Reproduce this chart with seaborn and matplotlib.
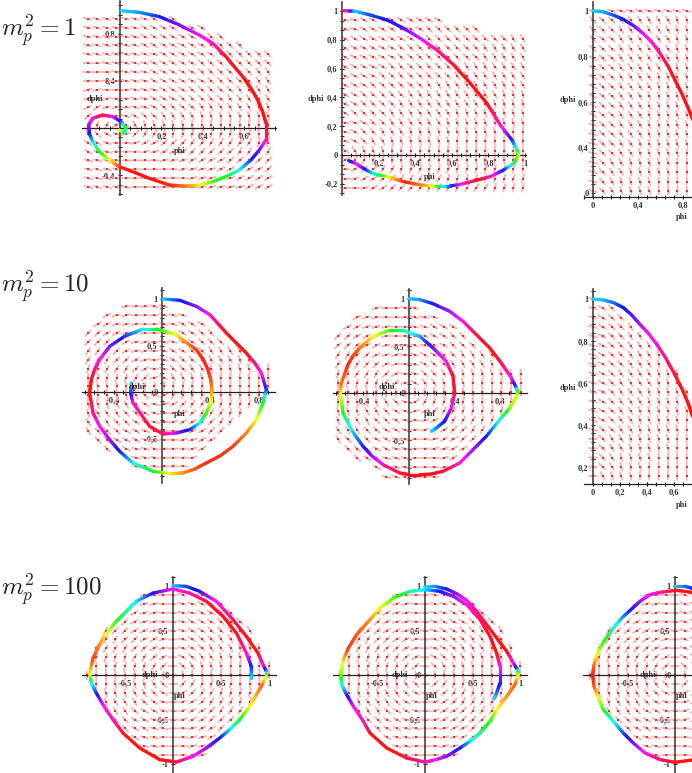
import numpy as np
import pandas as pd
import seaborn as sns
import matplotlib
matplotlib.use("Agg")
import matplotlib.pyplot as plt
from matplotlib.colors import hsv_to_rgb
from matplotlib.ticker import MultipleLocator

W, H = 692, 773
CODES = "abcdefghijklmnopqrstuvwx"  # 15 degree steps, clockwise from "right"

P1_PHI = [.005, .093, .190, .287, .383, .448, .512, .552, .593, .633, .665, .689, .705, .705, .673, .633, .576, .512, .448, .383, .319, .238, .142, .061, -.003, -.052, -.100, -.132, -.148, -.151, -.132, -.084, -.035, .005, .029, .021, -.003]
P1_DPHI = [.994, .980, .944, .873, .788, .718, .605, .520, .435, .336, .237, .138, .040, -.102, -.186, -.271, -.356, -.412, -.455, -.483, -.492, -.483, -.427, -.370, -.328, -.271, -.201, -.116, -.045, .025, .082, .110, .096, .054, -.003, -.045, -.017]
P1_HUE = [190, 205, 235, 265, 295, 310, 355, 358, 360, 360, 360, 360, 360, 330, 270, 235, 185, 130, 110, 60, 30, 5, 0, 0, 5, 55, 120, 180, 235, 270, 305, 355, 300, 240, 120, 180, 60]

P2_PHI = [.009, .073, .155, .246, .337, .428, .519, .610, .701, .792, .865, .929, .956, .965, .938, .883, .811, .738, .647, .592, .537, .483, .428, .337, .246, .200, .164, .118, .073, .036]
P2_DPHI = [1.002, .998, .972, .938, .880, .810, .729, .625, .498, .359, .208, .104, .035, 0, -.058, -.104, -.150, -.174, -.204, -.215, -.215, -.215, -.208, -.185, -.150, -.139, -.127, -.093, -.058, -.039]
P2_HUE = [360, 190, 225, 240, 255, 290, 325, 350, 360, 360, 320, 240, 170, 70, 130, 230, 310, 360, 310, 240, 170, 60, 30, 0, 60, 130, 180, 240, 310, 230]

P3_PHI = [.003, .092, .181, .270, .359, .444, .521, .596, .670, .729, .788, .847, .883, .95]
P3_DPHI = [1.001, .996, .982, .963, .936, .902, .865, .814, .756, .697, .639, .573, .529, .44]
P3_HUE = [190, 200, 220, 240, 260, 290, 310, 330, 350, 360, 360, 360, 360, 360]

P4_PHI = [.008, .146, .284, .394, .463, .532, .614, .697, .766, .821, .862, .835, .780, .697, .587, .482, .366, .270, .174, .063, -.074, -.240, -.350, -.433, -.515, -.570, -.598, -.584, -.556, -.515, -.433, -.309, -.157, -.047, .118, .187, .284, .339, .380, .402, .413, .408, .366, .311, .229, .118, .008, -.102, -.240, -.259, -.253]
P4_DPHI = [1, .986, .921, .832, .735, .634, .527, .419, .312, .204, .025, -.118, -.297, -.441, -.584, -.685, -.763, -.828, -.871, -.878, -.853, -.763, -.638, -.513, -.369, -.226, -.011, .133, .247, .348, .491, .599, .677, .677, .616, .545, .455, .355, .240, .133, .025, -.100, -.226, -.333, -.405, -.441, -.452, -.369, -.118, -.011, .097]
P4_HUE = [190, 235, 270, 300, 335, 360, 360, 360, 340, 310, 240, 130, 60, 30, 10, 8, 5, 15, 30, 50, 120, 180, 235, 270, 300, 330, 360, 360, 335, 310, 270, 235, 185, 130, 60, 35, 10, 5, 5, 15, 30, 55, 110, 170, 230, 270, 340, 355, 310, 240, 190]

P5_PHI = [0, .094, .211, .357, .474, .591, .708, .810, .898, .942, .956, .942, .883, .795, .678, .561, .444, .298, .196, .094, .006, -.082, -.228, -.322, -.404, -.506, -.579, -.602, -.594, -.535, -.491, -.433, -.316, -.170, -.053, .094, .211, .327, .386, .401, .371, .313, .240, .196]
P5_DPHI = [1.004, .993, .950, .869, .762, .621, .479, .319, .160, .053, .007, -.035, -.160, -.284, -.461, -.603, -.745, -.833, -.862, -.869, -.869, -.851, -.762, -.674, -.567, -.390, -.213, 0, .106, .301, .397, .479, .603, .667, .667, .603, .479, .337, .177, 0, -.160, -.301, -.372, -.408]
P5_HUE = [190, 205, 240, 275, 305, 350, 360, 350, 305, 220, 120, 65, 90, 170, 235, 275, 310, 350, 355, 360, 358, 355, 320, 280, 240, 190, 130, 60, 25, 5, 12, 20, 55, 110, 150, 200, 260, 305, 355, 355, 300, 245, 215, 190]

P6_PHI = [.002, .077, .151, .225, .286, .348, .410, .472, .533, .595, .657, .706, .736, .80]
P6_DPHI = [1.0, .995, .983, .959, .924, .879, .837, .784, .725, .654, .575, .503, .444, .36]
P6_HUE = [190, 195, 215, 240, 255, 275, 295, 310, 330, 345, 360, 360, 360, 360]

P7_PHI = [0, .139, .278, .451, .625, .764, .885, .938, .972, .972, .920, .868, .799, .694, .590, .486, .347, .208, .035, -.139, -.347, -.521, -.625, -.729, -.799, -.851, -.868, -.833, -.729, -.590, -.486, -.382, -.208, 0, .174, .347, .521, .660, .764, .816, .816]
P7_DPHI = [1.004, .996, .940, .828, .622, .434, .247, .116, .041, -.015, -.127, -.221, -.352, -.502, -.614, -.708, -.820, -.914, -.978, -.951, -.820, -.652, -.502, -.333, -.202, -.090, .022, .191, .416, .603, .715, .828, .921, .966, .921, .828, .659, .472, .247, .097, -.034]
P7_HUE = [190, 225, 245, 300, 340, 360, 360, 310, 220, 80, 20, 35, 60, 120, 185, 235, 270, 300, 345, 360, 360, 360, 320, 300, 240, 180, 60, 10, 40, 110, 150, 185, 240, 300, 320, 350, 360, 360, 320, 240, 190]

P8_PHI = [0, .105, .228, .333, .439, .544, .649, .754, .860, .930, .972, .982, .947, .860, .754, .684, .579, .474, .368, .228, .088, 0, -.193, -.404, -.579, -.649, -.754, -.825, -.877, -.884, -.860, -.807, -.719, -.579, -.474, -.333, -.158, 0, .158, .298, .439, .579, .684, .754, .789, .789, .754, .726]
P8_DPHI = [.989, .996, .966, .914, .839, .715, .566, .416, .266, .135, .060, .004, -.109, -.240, -.390, -.521, -.652, -.745, -.820, -.914, -.959, -.978, -.933, -.820, -.652, -.521, -.352, -.221, -.109, .004, .172, .303, .453, .622, .753, .865, .940, .959, .940, .884, .790, .622, .434, .247, .097, -.090, -.202, -.270]
P8_HUE = [185, 205, 240, 270, 300, 330, 350, 360, 360, 310, 220, 80, 20, 30, 60, 110, 140, 185, 235, 270, 300, 320, 350, 360, 360, 320, 300, 240, 180, 100, 50, 10, 15, 30, 60, 100, 150, 185, 240, 270, 300, 340, 360, 360, 310, 250, 220, 190]

P9_PHI = [0, .105, .21, .5, .95, .7, .21, 0, -.158, -.316, -.439, -.544, -.649, -.754, -.807, -.853, -.867, -.853, -.807, -.737, -.649, -.561, -.456, -.368, -.263, -.158, .018, .179, .21, .45]
P9_DPHI = [.996, .996, .966, .75, .1, -.55, -.951, -.981, -.951, -.876, -.764, -.652, -.521, -.39, -.258, -.127, 0, .116, .266, .397, .528, .64, .742, .828, .903, .929, .951, .929, .903, .65]
P9_HUE = [190, 215, 240, 300, 360, 360, 360, 360, 340, 310, 270, 230, 180, 120, 70, 20, 0, 20, 70, 120, 160, 200, 240, 270, 300, 320, 360, 360, 360, 360]

FIELD_1A = [
    "bbbbbbbccc..........", "bbbbbbccccccc.......", "bbbbbbcccccccdd.....", "bbbbbbcccccccdddd...",
    "bbbbbbbbccccccdddddd", "aabbbbbcccccdddddddd", "aaabbbbcccccddddddee", "aaaabbbccccccdddddee",
    "xxaaabbbcccdddddeeee", "xxxaabbcccdddddeeeee", "wwxxabbcddddeeeeeeff", "vwxabcddeeeeffffffff",
    "ttuwcefffffggggggggg", "qponljiihhhhhhhhhhgg", "oonmmlkkjjjiiiiiiihh", "onnmmmllkkkjjjjjiiii",
    "nnnnmmmmlllkkkkjjjjj", "nnnnmmmmmmllllkkkkkj", "nnnnmmmmmmmlllllkkkk", "nnnnnmmmmmmmlllllkkk",
]
FIELD_1B = [
    "bbccccccccc.........", "bbcccccccdddddd.....", "ccccccccddddddddddee", "ccccccdddddddddeeeee",
    "ccccccdddddddddeeeee", "cccccddddddddeeeeeee", "ccccddddddddeeeeeeee", "cccddddddeeeeeeeeeee",
    "ccdddddeeeeeeeeeefff", "ccddddeeeeeeeeefffff", "cddddeeeeeeeffffffff", "bbcddeeeeeefffffffff",
    "bcddeeefffffffffffgg", "bcdeefffffffgggggggg", "cefffggggggggggggggg", "kihhhggggggggggggggg",
    "mkjjiihhhhhhhhhhhhhg", "mlkkjjiiiiihhhhhhhhh", "mmlkkjjjiiiiiiiihhhh",
]
FIELD_1C = [
    "bbbbbbbbbbbb", "dddeeeeeefff", "dddeeeeeefff", "dddeeeeeefff", "dddeeeeeefff",
    "cddeeeeeefff", "cddeeeeeefff", "cddeeeefffff", "cddeeeefffff", "cddeeeffffff",
    "cddeeeffffff", "cddeeeffffff", "bddeeeffffff", "bddeeeffffff", "bddeeffffffg",
    "bddeefffffgg", "bdeefffffggg", "bdeefffffggg", "bdeffffggggg", "bdeffffggggg",
]
FIELD_2 = [
    "....xaabb...........", "..wxxaaabbb.........", ".wwxxxaabbccc.......", "vvwwxxaabbccdd......",
    "vvvwwxxabbccddd.....", "uuvvwxxabccddeeee...", "uuuvvwxabcddeeeeff..", "ttuuuvwabddeeffffffg",
    "sttttuvxceefffgggggg", "ssssssssgggggggggggg", "ssrrrqpnkihhhhggggg.", "rrrqqponlkjiihhhhh..",
    "rqqqpponmlkjiiihh...", "qqqppoonmlkkjjii....", "qpppoonnmmlkkjj.....", ".ppooonnmmllkk......",
    "..poonnnmmmlk.......", "....onnnmmml........", ".....nnnmmm.........",
]
FIELD_2C = [
    "b..........", "bcd........", "bcdd.......", "bcdde......", "bcddee.....",
    "bcddeeef...", "bcddeeef...", "bcddeeeff..", "bcdeeeefff.", "bcdeeeefff.",
    "bcdeeefffff", "bcdeeefffff", "bcdeeffffff", "bcdeefffffg", "bddeefffffg",
    "adeefffffgg", "adeefffffgg", "adeffffgggg", "adefffggggg", "aefffgggggg",
]
FIELD_3 = [
    "......xaaabbb.......", ".....xxxaabbccc.....", "....wwxxaabbccdd....", "...vvwxxaabcccddd...",
    "..uvvwwxaabccddeee..", "..uuvvwwxabcddeeee..", ".tuuuvvwxabcdeeefff.", ".ttttuuvwacdeefffff.",
    ".ssttttuvadefffggggg", "sssssssssagggggggggg", ".ssrrrrqpmjihhhhggg.", ".rrrrqqpomkjiihhhh..",
    "..rqqqponmlkjiiihh..", "..qqqpoonmlkkjiii...", "...ppoonnmlkkjjji...", "....poonnmmlkkjj....",
    ".....onnmmmllkk.....", "......nnmmmllk......", ".......nmmmll.......",
]

TITLES = [r"$m_p^2 = 1$", r"$m_p^2 = 10$", r"$m_p^2 = 100$"]
TITLE_Y = [31, 287, 590]


def add_field(ax, table, x_ends, y_ends, length=10):
    xs = np.linspace(x_ends[0], x_ends[1], len(table[0]))
    ys = np.linspace(y_ends[0], y_ends[1], len(table))
    px, py, ang = [], [], []
    for row, y in zip(table, ys):
        for ch, x in zip(row, xs):
            if ch != ".":
                px.append(x)
                py.append(y)
                ang.append(np.deg2rad(-15 * CODES.index(ch)))
    ang = np.array(ang)
    ax.quiver(px, py, length * np.cos(ang), length * np.sin(ang), angles="uv",
              scale_units="dots", scale=1, units="dots", width=1.9, headwidth=1,
              headlength=1, headaxislength=1, pivot="mid", color="#ffb0b0",
              zorder=1.5, clip_on=False)
    sns.scatterplot(x=px, y=py, ax=ax, color="#ff2626", marker="s", s=4.5,
                    linewidth=0, legend=False, zorder=1.6, clip_on=False)


def add_curve(ax, phi, dphi, hue, pieces=6):
    # one straight piece per colour step, so the hue runs along the path
    rows = []
    colours = {}
    n = 0
    for i in range(len(phi) - 1):
        for t in np.linspace(0, 1, pieces, endpoint=False):
            t2 = t + 1 / pieces
            for s in (t, t2):
                rows.append((n, phi[i] + s * (phi[i + 1] - phi[i]),
                             dphi[i] + s * (dphi[i + 1] - dphi[i])))
            h = hue[i] + (t + t2) / 2 * (hue[i + 1] - hue[i])
            colours[n] = hsv_to_rgb(((h % 360) / 360, 0.92, 1))
            n += 1
    df = pd.DataFrame(rows, columns=["piece", "phi", "dphi"])
    sns.lineplot(data=df, x="phi", y="dphi", hue="piece", palette=colours,
                 estimator=None, sort=False, legend=False, linewidth=2.3,
                 ax=ax, zorder=3, solid_capstyle="round", clip_on=False)
    ax.set_xlabel("")
    ax.set_ylabel("")


def panel(fig, origin, scale, box, xticks, xlabels, yticks, ylabels, steps, dphi_at, phi_at):
    ox, oy = origin
    sx, sy = scale
    l, r, t, b = box
    ax = fig.add_axes([l / W, 1 - b / H, (r - l) / W, (b - t) / H])
    ax.set_xlim((l - ox) / sx, (r - ox) / sx)
    ax.set_ylim((oy - b) / sy, (oy - t) / sy)
    ax.patch.set_alpha(0)
    for side in ("top", "right"):
        ax.spines[side].set_visible(False)
    ax.spines["left"].set_position(("data", 0))
    ax.spines["bottom"].set_position(("data", max(0, ax.get_ylim()[0])))
    ax.spines["left"].set_color("#444444")
    ax.spines["left"].set_linewidth(1.2)
    ax.spines["bottom"].set_color("#222222")
    ax.spines["bottom"].set_linewidth(0.9)
    ax.set_xticks(xticks, xlabels)
    ax.set_yticks(yticks, ylabels)
    ax.xaxis.set_minor_locator(MultipleLocator(steps[0]))
    ax.yaxis.set_minor_locator(MultipleLocator(steps[1]))
    ax.tick_params(which="both", direction="inout", length=3.5, width=0.8,
                   color="#222222", bottom=True, left=True)
    ax.tick_params(axis="both", which="major", labelsize=6, pad=1.5, labelcolor="#333333")
    for label in ax.get_xticklabels() + ax.get_yticklabels():
        label.set_fontweight("bold")
    for txt, pos in (("dphi", dphi_at), ("phi", phi_at)):
        ax.text(pos[0], pos[1], txt, fontsize=6, fontweight="bold", ha="center",
                va="center", color="#333333", zorder=4, clip_on=False)
    return ax


def main():
    sns.set_theme(style="white")
    plt.rcParams["font.family"] = ["Liberation Serif", "DejaVu Serif"]
    plt.rcParams["mathtext.fontset"] = "cm"
    fig = plt.figure(figsize=(W / 100, H / 100), dpi=100, facecolor="white")

    ax = panel(fig, (120, 128), (207, 118), (82, 276, 1, 195),
               [.2, .4, .6], ["0,2", "0,4", "0,6"], [.8, .4, -.4], ["0,8", "0,4", "-0,4"],
               (.05, .08), (-.12, .246), (.29, -.195))
    add_field(ax, FIELD_1A, (-.155, .715), (.924, -.5))
    add_curve(ax, P1_PHI, P1_DPHI, P1_HUE)

    ax = panel(fig, (342, 155), (183, 144), (342, 526, 2, 195),
               [.2, .4, .6, .8, 1], ["0,2", "0,4", "0,6", "0,8", "1"],
               [1, .8, .6, .4, .2, 0, -.2], ["1", "0,8", "0,6", "0,4", "0,2", "0", "-0,2"],
               (.05, .0667), (-.142, .389), (.481, -.153))
    add_field(ax, FIELD_1B, (.018, .988), (.9375, -.229))
    add_curve(ax, P2_PHI, P2_DPHI, P2_HUE)

    ax = panel(fig, (593, 239), (112.5, 228), (584, 692, 2, 197),
               [0, .4, .8], ["0", "0,4", "0,8"],
               [1, .8, .6, .4, .2], ["1", "0,8", "0,6", "0,4", "0"],
               (.08, .04), (-.222, .61), (.791, .096))
    add_field(ax, FIELD_1C, (.003, .916), (1, .21))
    add_curve(ax, P3_PHI, P3_DPHI, P3_HUE)

    ax = panel(fig, (162, 392), (121, 93), (82, 275, 288, 483),
               [-.4, .4, .8], ["-0,4", "0,4", "0,8"], [1, .5, 0, -.5], ["1", "0,5", "0", "-0,5"],
               (.08, .1), (-.207, .054), (.149, -.237))
    add_field(ax, FIELD_2, (-.61, .877), (.92, -.80))
    add_curve(ax, P4_PHI, P4_DPHI, P4_HUE)

    ax = panel(fig, (409, 393), (114, 94), (333, 527, 289, 484),
               [-.4, .4, .8], ["-0,4", "0,4", "0,8"], [1, .5, 0, -.5], ["1", "0,5", "0", "-0,5"],
               (.08, .1), (-.193, .064), (.184, -.223))
    add_field(ax, FIELD_2, (-.623, .98), (.904, -.89))
    add_curve(ax, P5_PHI, P5_DPHI, P5_HUE)

    ax = panel(fig, (593, 509), (135, 210), (584, 692, 289, 484),
               [0, .2, .4, .6], ["0", "0,2", "0,4", "0,6"],
               [1, .8, .6, .4, .2], ["1", "0,8", "0,6", "0,4", "0,2"],
               (.0667, .04), (-.185, .576), (.659, .019))
    add_field(ax, FIELD_2C, (.002, .693), (1, .156))
    add_curve(ax, P6_PHI, P6_DPHI, P6_HUE)

    ax = panel(fig, (173, 675), (96, 89), (82, 276, 577, 773),
               [-.5, .5, 1], ["-0,5", "0,5", "1"], [1, .5, 0, -.5, -1], ["1", "0,5", "0", "-0,5", "-1"],
               (.1, .1), (-.24, 0), (.073, -.236))
    add_field(ax, FIELD_3, (-.9, 1.0), (.9, -.9))
    add_curve(ax, P7_PHI, P7_DPHI, P7_HUE)

    ax = panel(fig, (425, 675), (95, 89), (333, 527, 577, 773),
               [-.5, .5, 1], ["-0,5", "0,5", "1"], [1, .5, 0, -.5, -1], ["1", "0,5", "0", "-0,5", "-1"],
               (.1, .1), (-.263, 0), (.074, -.236))
    add_field(ax, FIELD_3, (-.9, 1.0), (.9, -.9))
    add_curve(ax, P8_PHI, P8_DPHI, P8_HUE)

    ax = panel(fig, (675, 675), (95, 89), (583, 692, 577, 773),
               [-.5], ["-0,5"], [1, .5, 0, -.5, -1], ["1", "0,5", "0", "-0,5", "-1"],
               (.1, .1), (-.284, 0), (.074, -.236))
    add_field(ax, FIELD_3, (-.9, 1.0), (.9, -.9))
    add_curve(ax, P9_PHI, P9_DPHI, P9_HUE)

    for title, y in zip(TITLES, TITLE_Y):
        fig.text(1 / W, 1 - y / H, title, fontsize=18, va="center", ha="left", color="#222222")

    fig.savefig("out.png", dpi=100)


if __name__ == "__main__":
    main()
